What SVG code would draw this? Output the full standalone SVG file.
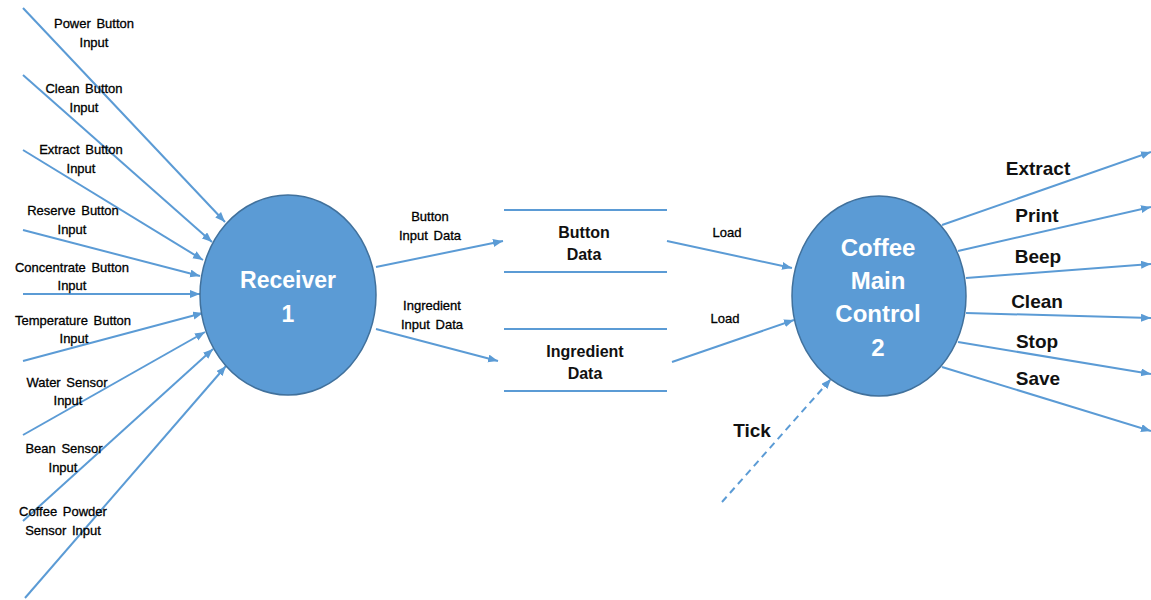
<svg xmlns="http://www.w3.org/2000/svg" width="1151" height="600" viewBox="0 0 1151 600">
<defs>
<marker id="arr" markerUnits="userSpaceOnUse" markerWidth="11" markerHeight="9" refX="10" refY="4" orient="auto">
<path d="M0,0 L10,4 L0,8 z" fill="#5B9BD5"/>
</marker>
<style>
.ln{stroke:#5B9BD5;stroke-width:2;fill:none}
.ar{marker-end:url(#arr)}
.dash{stroke-dasharray:7,5}
.bub{fill:#5B9BD5;stroke:#41719C;stroke-width:1.5}
.nt{font-family:"Liberation Sans",Arial,sans-serif;font-weight:bold;fill:#fff;text-anchor:middle}
.sm{font-family:"Liberation Sans",Arial,sans-serif;font-size:13px;fill:#000;stroke:#000;stroke-width:0.3;text-anchor:middle;word-spacing:2px}
.ds{font-family:"Liberation Sans",Arial,sans-serif;font-size:16px;font-weight:bold;fill:#111;text-anchor:middle}
.out{font-family:"Liberation Sans",Arial,sans-serif;font-size:19px;font-weight:bold;fill:#111;text-anchor:middle}
</style>
</defs>
<rect width="1151" height="600" fill="#fff"/>

<g id="connectors">
<line class="ln ar" x1="23" y1="8" x2="225" y2="222"/>
<line class="ln ar" x1="23" y1="75" x2="212" y2="242"/>
<line class="ln ar" x1="23" y1="150" x2="203" y2="260"/>
<line class="ln ar" x1="23" y1="230" x2="200" y2="276"/>
<line class="ln ar" x1="23" y1="294" x2="200" y2="294"/>
<line class="ln ar" x1="23" y1="361" x2="203" y2="313"/>
<line class="ln ar" x1="23" y1="435" x2="205" y2="332"/>
<line class="ln ar" x1="23" y1="521" x2="213" y2="349"/>
<line class="ln ar" x1="25" y1="598" x2="226" y2="366"/>
<line class="ln ar" x1="376" y1="267" x2="503" y2="241"/>
<line class="ln ar" x1="376" y1="329" x2="498" y2="361"/>
<line class="ln ar" x1="667" y1="241" x2="792" y2="268"/>
<line class="ln ar" x1="672" y1="362" x2="794" y2="320"/>
<line class="ln ar dash" x1="722" y1="502" x2="831" y2="379"/>
<line class="ln ar" x1="942" y1="225" x2="1151" y2="152"/>
<line class="ln ar" x1="958" y1="251" x2="1151" y2="207"/>
<line class="ln ar" x1="966" y1="278" x2="1151" y2="264"/>
<line class="ln ar" x1="966" y1="313" x2="1151" y2="318"/>
<line class="ln ar" x1="958" y1="342" x2="1151" y2="374"/>
<line class="ln ar" x1="942" y1="367" x2="1151" y2="431"/>
<g class="sm">
<text x="94" y="28">Power Button</text><text x="94" y="47">Input</text>
<text x="84" y="93">Clean Button</text><text x="84" y="112">Input</text>
<text x="81" y="154">Extract Button</text><text x="81" y="173">Input</text>
<text x="73" y="215">Reserve Button</text><text x="72" y="234">Input</text>
<text x="72" y="272">Concentrate Button</text><text x="72" y="290">Input</text>
<text x="73" y="325">Temperature Button</text><text x="74" y="343">Input</text>
<text x="67" y="387">Water Sensor</text><text x="68" y="405">Input</text>
<text x="64" y="453">Bean Sensor</text><text x="63" y="472">Input</text>
<text x="63" y="516">Coffee Powder</text><text x="63" y="535">Sensor Input</text>
<text x="430" y="221">Button</text><text x="430" y="240">Input Data</text>
<text x="432" y="310">Ingredient</text><text x="432" y="329">Input Data</text>
<text x="727" y="237">Load</text>
<text x="725" y="323">Load</text>
</g>
<g class="out">
<text x="752" y="437">Tick</text>
<text x="1038" y="175">Extract</text>
<text x="1037" y="222">Print</text>
<text x="1038" y="263">Beep</text>
<text x="1037" y="308">Clean</text>
<text x="1037" y="348">Stop</text>
<text x="1038" y="385">Save</text>
</g>
</g>

<g id="receiver">
<ellipse class="bub" cx="288" cy="295" rx="88" ry="100"/>
<text class="nt" x="288" y="288" font-size="23">Receiver</text>
<text class="nt" x="288" y="322" font-size="23">1</text>
</g>

<g id="button-data">
<line class="ln" x1="504" y1="210" x2="667" y2="210"/>
<line class="ln" x1="504" y1="272" x2="667" y2="272"/>
<text class="ds" x="584" y="238">Button</text>
<text class="ds" x="584" y="260">Data</text>
</g>

<g id="ingredient-data">
<line class="ln" x1="504" y1="329" x2="667" y2="329"/>
<line class="ln" x1="504" y1="391" x2="667" y2="391"/>
<text class="ds" x="585" y="357">Ingredient</text>
<text class="ds" x="585" y="379">Data</text>
</g>

<g id="main-control">
<ellipse class="bub" cx="879" cy="296" rx="87" ry="100"/>
<text class="nt" x="878" y="256" font-size="24">Coffee</text>
<text class="nt" x="878" y="289" font-size="24">Main</text>
<text class="nt" x="878" y="322" font-size="24">Control</text>
<text class="nt" x="878" y="356" font-size="24">2</text>
</g>
</svg>
